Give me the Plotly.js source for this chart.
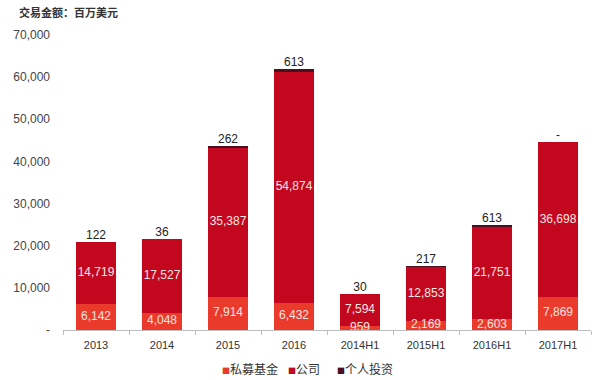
<!DOCTYPE html>
<html><head><meta charset="utf-8">
<script src="https://cdn.plot.ly/plotly-3.0.1.min.js"></script>
<style>html,body{margin:0;padding:0;background:#fff}#c{width:600px;height:380px}</style>
</head><body><div id="c"></div>
<script>
const categories = ["2013","2014","2015","2016","2014H1","2015H1","2016H1","2017H1"];
const privateEquity = [6142,4048,7914,6432,959,2169,2603,7869];
const company = [14719,17527,35387,54874,7594,12853,21751,36698];
const individual = [122,36,262,613,30,217,613,0];
const individualLabels = ["122","36","262","613","30","217","613","-"];
const seriesNames = ["私募基金","公司","个人投资"];
const seriesColors = ["#ea3a2c","#c3071f","#4b1020"];
const yTickVals = [0,10000,20000,30000,40000,50000,60000,70000];
const yTickText = ["-","10,000","20,000","30,000","40,000","50,000","60,000","70,000"];

const totals = categories.map((c,i)=>privateEquity[i]+company[i]+individual[i]);
const peMid = privateEquity.map(v=>v/2);
const coMid = company.map((v,i)=>privateEquity[i]+v/2);
const fmt = v => v.toLocaleString('en-US');
const latin = "Liberation Sans, Arial, sans-serif";
const cjk = "Noto Sans CJK SC, sans-serif";

const series = [privateEquity, company, individual];
const legendIds = ['legend','legend2','legend3'];
const traces = series.map((vals,k)=>({
  type:'bar', name:seriesNames[k], x:categories, y:vals, marker:{color:seriesColors[k], line:{width:0}},
  showlegend:false, hoverinfo:'skip'
}));
traces.push({type:'scatter', mode:'text', x:categories, y:peMid, text:privateEquity.map(fmt),
  textposition:'middle center', textfont:{color:'#fbe6e2', size:12, family:latin},
  showlegend:false, cliponaxis:false, hoverinfo:'skip'});
traces.push({type:'scatter', mode:'text', x:categories, y:coMid, text:company.map(fmt),
  textposition:'middle center', textfont:{color:'#fbe6e2', size:12, family:latin},
  showlegend:false, cliponaxis:false, hoverinfo:'skip'});
traces.push({type:'scatter', mode:'text', x:categories, y:totals, text:individualLabels,
  textposition:'top center', textfont:{color:'#222', size:12, family:latin},
  showlegend:false, cliponaxis:false, hoverinfo:'skip'});
// legend entries: coloured square glyph in the label, next to the text as in the source
seriesNames.forEach((n,k)=>traces.push({type:'scatter', mode:'markers',
  name:'<span style="color:'+seriesColors[k]+';font-size:8px">■</span>'+n,
  legend:legendIds[k], x:[null], y:[null],
  marker:{symbol:'square', size:1, color:'rgba(0,0,0,0)', line:{width:0}}, hoverinfo:'skip'}));

const legendBase = {orientation:'h', y:-0.132, yanchor:'middle', xanchor:'left',
  font:{size:12, color:'#333', family:cjk}, itemwidth:30, bgcolor:'rgba(0,0,0,0)'};
const layout = {
  width:600, height:380,
  margin:{l:63, r:9, t:35, b:50, autoexpand:false},
  paper_bgcolor:'#fff', plot_bgcolor:'#fff',
  barmode:'stack', bargap:0.4,
  font:{family:latin, color:'#333'},
  xaxis:{type:'category', showgrid:false, showline:true, linecolor:'#bdbdbd', linewidth:1,
    ticks:'outside', tickson:'boundaries', ticklen:4, tickcolor:'#bdbdbd', ticklabelstandoff:5,
    tickfont:{size:11, color:'#333', family:latin}},
  yaxis:{range:[0,70000], showgrid:false, zeroline:false, showline:false,
    tickvals:yTickVals, ticktext:yTickText, ticks:'', ticklabelstandoff:12,
    tickfont:{size:12, color:'#444', family:latin}},
  legend:Object.assign({}, legendBase, {x:0.2254}),
  legend2:Object.assign({}, legendBase, {x:0.3504}),
  legend3:Object.assign({}, legendBase, {x:0.4432}),
  annotations:[{xref:'paper', yref:'paper', x:-0.088, xanchor:'left', y:1.0, yanchor:'bottom', yshift:13,
    text:'<b>交易金额：百万美元</b>', showarrow:false, font:{size:11, color:'#333', family:cjk}}],
  showlegend:true
};
Plotly.newPlot('c', traces, layout, {displayModeBar:false, staticPlot:true});
</script></body></html>
